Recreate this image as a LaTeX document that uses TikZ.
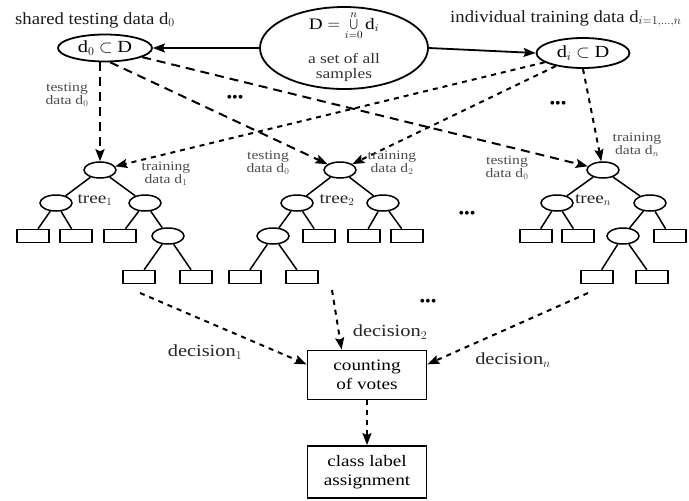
\documentclass[tikz,border=0pt]{standalone}
\usepackage{fontspec}
\setmainfont{Liberation Serif}
\newfontfamily\lblfont[FakeStretch=1.2]{Liberation Serif}
\newfontfamily\ttlfont[FakeStretch=1.1]{Liberation Serif}
\usetikzlibrary{shapes.geometric,arrows.meta}
\begin{document}
\begin{tikzpicture}[x=1pt,y=-1pt,
  tn/.style={draw,ellipse,line width=1.5pt,minimum width=32pt,minimum height=16pt,inner sep=0pt},
  lf/.style={draw,rectangle,line width=1.5pt,minimum width=32pt,minimum height=13pt,inner sep=0pt},
  edg/.style={line width=1.5pt},
  tipA/.style={-{Stealth[length=12pt,width=9pt,inset=2pt]}},
  dsh/.style={line width=2pt,dash pattern=on 9pt off 6pt,tipA},
  dsd/.style={line width=2pt,dash pattern=on 5pt off 5pt,tipA},
  small/.style={font=\lblfont\fontsize{13}{13}\selectfont,align=center,text=black!70,inner sep=0pt},
  treelbl/.style={font=\lblfont\fontsize{16}{16}\selectfont,text=black!85,inner sep=0pt},
  declbl/.style={font=\lblfont\fontsize{17}{17}\selectfont,text=black!85,inner sep=0pt},
  boxn/.style={draw,rectangle,line width=1.8pt,minimum width=119pt,align=center,inner sep=0pt,
    font=\lblfont\fontsize{16}{19}\selectfont},
  setn/.style={draw,ellipse,line width=1.8pt,inner sep=0pt,font=\lblfont\fontsize{17}{17}\selectfont},
  ttl/.style={font=\ttlfont\fontsize{17}{17}\selectfont,anchor=base west,inner sep=0pt,text=black!90},
  dotsn/.style={font=\fontsize{16}{16}\selectfont,inner sep=0pt},
 ]
\useasboundingbox (0,0) rectangle (689,501);

% titles
\node[ttl] (ttlL) at (15,24) {shared testing data d$_0$};
\node[ttl] (ttlR) at (450,22) {individual training data d$_{i=1,\ldots,n}$};

% top sets
\node[setn,minimum width=168pt,minimum height=82pt] (D) at (344,48) {};
\node[font=\lblfont\fontsize{16}{16}\selectfont,inner sep=0pt] (Df) at (344,26) {D $=\bigcup\limits_{i=0}^{n}$\,d$_i$};
\node[font=\lblfont\fontsize{14.5}{15}\selectfont,align=center,inner sep=0pt,text=black!80] (Dt) at (344,67) {a set of all\\samples};
\node[setn,minimum width=94pt,minimum height=27pt] (d0) at (105,48) {d$_0\subset{}$D};
\node[setn,minimum width=93pt,minimum height=30pt] (di) at (583,53) {d$_i\subset{}$D};

\draw[line width=1.8pt,tipA] (D.west) -- (d0.east);
\draw[line width=1.8pt,tipA] (D.east) -- (di.west);

% tree 1
\node[tn] (t1r) at (100,170) {};
\node[tn] (t1a) at (56,203) {};
\node[tn] (t1b) at (145,203) {};
\node[lf] (t1l1) at (33,236) {};
\node[lf] (t1l2) at (76,236) {};
\node[lf] (t1l3) at (120,236) {};
\node[tn] (t1c) at (168,236) {};
\node[lf] (t1l4) at (139,277) {};
\node[lf] (t1l5) at (196,277) {};
\draw[edg] (t1r) -- (t1a);
\draw[edg] (t1r) -- (t1b);
\draw[edg] (t1a) -- (t1l1);
\draw[edg] (t1a) -- (t1l2);
\draw[edg] (t1b) -- (t1l3);
\draw[edg] (t1b) -- (t1c);
\draw[edg] (t1c) -- (t1l4);
\draw[edg] (t1c) -- (t1l5);
\node[treelbl] (t1n) at (95,200) {tree$_1$};

% tree 2
\node[tn] (t2r) at (340,170) {};
\node[tn] (t2a) at (297,203) {};
\node[tn] (t2b) at (383,203) {};
\node[tn] (t2c) at (273,236) {};
\node[lf] (t2l1) at (319,236) {};
\node[lf] (t2l2) at (364,236) {};
\node[lf] (t2l3) at (407,236) {};
\node[lf] (t2l4) at (245,277) {};
\node[lf] (t2l5) at (302,277) {};
\draw[edg] (t2r) -- (t2a);
\draw[edg] (t2r) -- (t2b);
\draw[edg] (t2a) -- (t2c);
\draw[edg] (t2a) -- (t2l1);
\draw[edg] (t2b) -- (t2l2);
\draw[edg] (t2b) -- (t2l3);
\draw[edg] (t2c) -- (t2l4);
\draw[edg] (t2c) -- (t2l5);
\node[treelbl] (t2n) at (337,200) {tree$_2$};

% tree n
\node[tn] (tnr) at (603,170) {};
\node[tn] (tna) at (557,203) {};
\node[tn] (tnb) at (650,203) {};
\node[lf] (tnl1) at (536,236) {};
\node[lf] (tnl2) at (578,236) {};
\node[tn] (tnc) at (623,236) {};
\node[lf] (tnl3) at (670,236) {};
\node[lf] (tnl4) at (597,277) {};
\node[lf] (tnl5) at (652,277) {};
\draw[edg] (tnr) -- (tna);
\draw[edg] (tnr) -- (tnb);
\draw[edg] (tna) -- (tnl1);
\draw[edg] (tna) -- (tnl2);
\draw[edg] (tnb) -- (tnc);
\draw[edg] (tnb) -- (tnl3);
\draw[edg] (tnc) -- (tnl4);
\draw[edg] (tnc) -- (tnl5);
\node[treelbl] (tnn) at (593,200) {tree$_n$};

% data arrows
\draw[dsh] (d0.south -| t1r.north) -- (t1r);
\draw[dsh] (d0.-70) -- (t2r);
\draw[dsh] (d0) -- (tnr);
\draw[dsd] (di) -- (t1r);
\draw[dsd] (di) -- (t2r);
\draw[dsd] (di.south) -- (tnr);

% data labels
\node[small] (lb1) at (67,95) {testing\\data d$_0$};
\node[small] (lb2) at (166,174) {training\\data d$_1$};
\node[small] (lb3) at (268,163) {testing\\data d$_0$};
\node[small] (lb4) at (392,163) {training\\data d$_2$};
\node[small] (lb5) at (507,168) {testing\\data d$_0$};
\node[small] (lb6) at (637,145) {training\\data d$_n$};

% dots
\node[dotsn] (dt1) at (235,99) {•••};
\node[dotsn] (dt2) at (558,105) {•••};
\node[dotsn] (dt3) at (467,215) {•••};
\node[dotsn] (dt4) at (428,303) {•••};

% voting
\node[boxn,minimum height=49pt] (votes) at (367,375) {counting\\of votes};
\node[boxn,minimum height=52pt] (cls) at (367,472) {class label\\assignment};
\coordinate (s1) at (140,293);
\coordinate (s2) at (332,290);
\coordinate (s3) at (588,293);
\draw[dsd] (s1) -- (votes.170);
\draw[dsd] (s2) -- (votes.135);
\draw[dsd] (s3) -- (votes.10);
\draw[dsd] (votes) -- (cls);
\node[declbl] (dc1) at (205,352) {decision$_1$};
\node[declbl] (dc2) at (390,332) {decision$_2$};
\node[declbl] (dcn) at (513,360) {decision$_n$};
\end{tikzpicture}
\end{document}
